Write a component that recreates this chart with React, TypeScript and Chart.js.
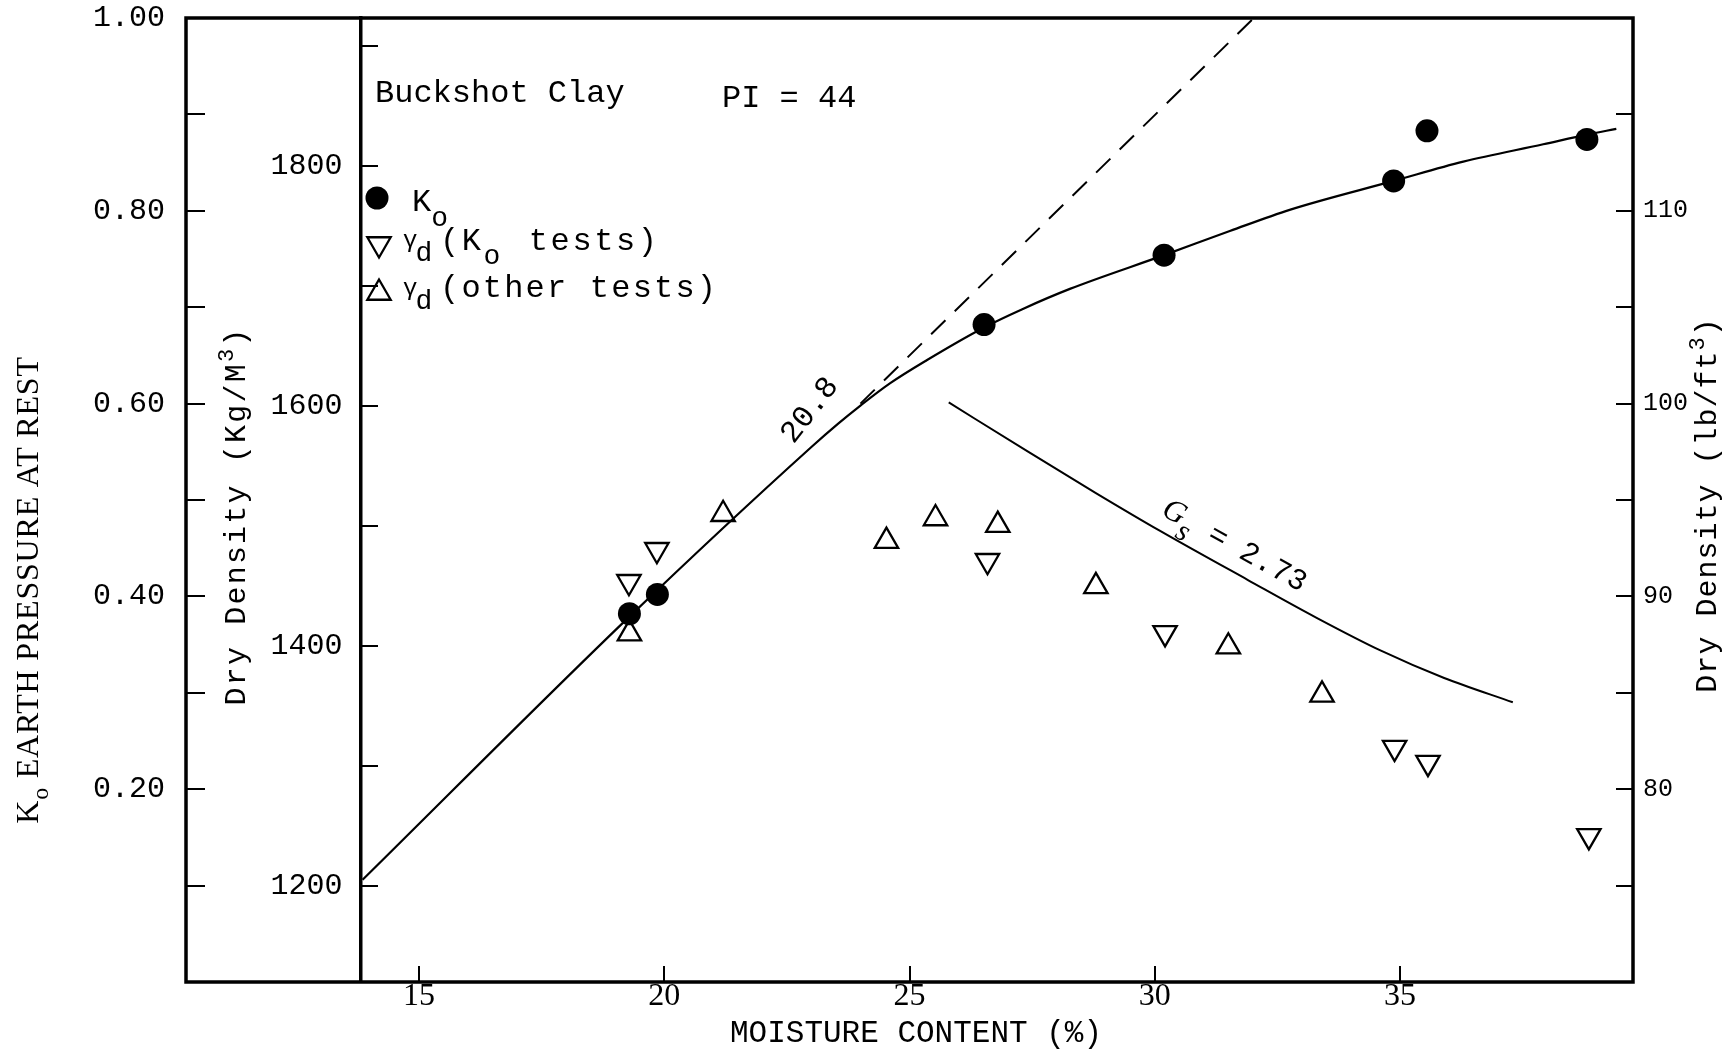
import React, { useEffect, useRef } from 'react';
import { Chart, registerables } from 'chart.js';

Chart.register(...registerables);

// ---------------- data ----------------
const moistureTicks = [15, 20, 25, 30, 35];
const k0Ticks = [0.1, 0.2, 0.3, 0.4, 0.5, 0.6, 0.7, 0.8, 0.9, 1.0];
const k0TickLabels = [0.2, 0.4, 0.6, 0.8, 1.0];
const kgTicks = [1200, 1300, 1400, 1500, 1600, 1700, 1800, 1900];
const kgTickLabels = [1200, 1400, 1600, 1800];
const lbTicks = [75, 80, 85, 90, 95, 100, 105, 110, 115];
const lbTickLabels = [80, 90, 100, 110];

// K0 test results (moisture %, K0)
const k0TestMoisture = [19.29, 19.86, 26.52, 30.19, 34.87, 35.55, 38.81];
const k0Values = [0.382, 0.402, 0.682, 0.754, 0.831, 0.883, 0.874];

// dry density of K0 tests (moisture %, lb/ft3)
const gammaK0Moisture = [19.28, 19.85, 26.59, 30.21, 34.89, 35.57, 38.85];
const gammaK0Density = [90.76, 92.42, 91.85, 88.11, 82.16, 81.38, 77.58];

// dry density of other tests (moisture %, lb/ft3)
const gammaOtherMoisture = [19.29, 21.2, 24.53, 25.53, 26.8, 28.8, 31.5, 33.41];
const gammaOtherDensity = [88.07, 94.26, 92.87, 94.04, 93.7, 90.52, 87.39, 84.89];

// fitted K0 curve
const k0CurveMoisture = [13.85, 19.29, 23.0, 23.54, 24.0, 24.6, 25.35, 26.52, 27.3, 28.27, 30.19, 31.53, 32.75, 34.87, 36.29, 37.92, 38.81, 39.41];
const k0CurveValues = [0.106, 0.379, 0.555, 0.579, 0.598, 0.621, 0.645, 0.679, 0.698, 0.719, 0.754, 0.779, 0.801, 0.831, 0.851, 0.869, 0.879, 0.885];

// dashed straight-line extension (slope 20.8)
const slopeMoisture = [24.0, 32.02];
const slopeValues = [0.6, 1.0];

// Gs = 2.73 curve (moisture %, lb/ft3)
const zavMoisture = [25.8, 27.4, 28.8, 30.1, 31.9, 33.3, 34.6, 35.9, 37.3];
const zavDensity = [100.06, 97.53, 95.36, 93.41, 90.85, 88.89, 87.2, 85.77, 84.51];

const zip = (xs: number[], ys: number[]) => xs.map((x, i) => ({ x, y: ys[i] }));

const MONO = 'Liberation Mono';
const SERIF = 'Liberation Serif';

type Run = { t: string; font: string; dy?: number; dx?: number };

function drawRuns(ctx: CanvasRenderingContext2D, runs: Run[], x: number, y: number, center: boolean, spacing = 0) {
  (ctx as any).letterSpacing = `${spacing}px`;
  let total = 0;
  for (const r of runs) {
    ctx.font = r.font;
    total += ctx.measureText(r.t).width + (r.dx || 0);
  }
  let cx = center ? x - total / 2 : x;
  for (const r of runs) {
    ctx.font = r.font;
    cx += r.dx || 0;
    ctx.fillText(r.t, cx, y + (r.dy || 0));
    cx += ctx.measureText(r.t).width;
  }
  (ctx as any).letterSpacing = '0px';
}

function rotated(ctx: CanvasRenderingContext2D, x: number, y: number, deg: number, fn: () => void) {
  ctx.save();
  ctx.translate(x, y);
  ctx.rotate((deg * Math.PI) / 180);
  fn();
  ctx.restore();
}

function triangle(ctx: CanvasRenderingContext2D, x: number, y: number, r: number, down: boolean) {
  let rad = down ? Math.PI : 0;
  ctx.beginPath();
  for (let i = 0; i < 3; i++) {
    const px = x + Math.sin(rad) * r;
    const py = y - Math.cos(rad) * r;
    if (i === 0) ctx.moveTo(px, py);
    else ctx.lineTo(px, py);
    rad += (2 * Math.PI) / 3;
  }
  ctx.closePath();
  ctx.stroke();
}

const overlayPlugin = {
  id: 'overlay',
  beforeDraw(chart: any) {
    const { ctx, width, height } = chart;
    ctx.save();
    ctx.fillStyle = '#fff';
    ctx.fillRect(0, 0, width, height);
    ctx.restore();
  },
  afterDraw(chart: any) {
    const { ctx, chartArea: a, scales } = chart;
    ctx.save();
    ctx.strokeStyle = '#000';
    ctx.fillStyle = '#000';
    // frame
    ctx.lineWidth = 3.5;
    ctx.strokeRect(a.left, a.top, a.right - a.left, a.bottom - a.top);

    ctx.textBaseline = 'alphabetic';
    ctx.textAlign = 'left';

    // axis titles
    rotated(ctx, 38, 590, -90, () => {
      drawRuns(ctx, [
        { t: 'K', font: `32px ${SERIF}` },
        { t: 'o', font: `24px ${SERIF}`, dy: 10 },
        { t: ' EARTH PRESSURE AT REST', font: `32px ${SERIF}` },
      ], 0, 0, true, 0.8);
    });
    rotated(ctx, 245, 516, -90, () => {
      drawRuns(ctx, [
        { t: 'Dry Density (Kg/M', font: `30px ${MONO}` },
        { t: '3', font: `22px ${MONO}`, dy: -12 },
        { t: ')', font: `30px ${MONO}` },
      ], 0, 0, true, 2.2);
    });
    rotated(ctx, 1716, 505, -90, () => {
      drawRuns(ctx, [
        { t: 'Dry Density (lb/ft', font: `30px ${MONO}` },
        { t: '3', font: `22px ${MONO}`, dy: -12 },
        { t: ')', font: `30px ${MONO}` },
      ], 0, 0, true, 1.0);
    });
    drawRuns(ctx, [{ t: 'MOISTURE CONTENT (%)', font: `31px ${MONO}` }], 916, 1042, true);

    // header text
    drawRuns(ctx, [{ t: 'Buckshot Clay', font: `32px ${MONO}` }], 375, 102, false);
    drawRuns(ctx, [{ t: 'PI = 44', font: `32px ${MONO}` }], 722, 107, false);

    // legend
    ctx.beginPath();
    ctx.arc(377, 198, 11.5, 0, Math.PI * 2);
    ctx.fill();
    ctx.lineWidth = 2.3;
    triangle(ctx, 379, 244, 13.5, true);
    triangle(ctx, 379, 293, 13.5, false);
    drawRuns(ctx, [
      { t: 'K', font: `32px ${MONO}` },
      { t: 'o', font: `28px ${MONO}`, dy: 15 },
    ], 412, 211, false);
    drawRuns(ctx, [
      { t: 'γ', font: `24px ${MONO}` },
      { t: 'd', font: `28px ${MONO}`, dy: 14, dx: -2 },
    ], 403, 247, false);
    drawRuns(ctx, [
      { t: '(K', font: `32px ${MONO}` },
      { t: 'o', font: `28px ${MONO}`, dy: 14 },
      { t: ' tests)', font: `32px ${MONO}`, dx: 4 },
    ], 440, 250, false, 2.6);
    drawRuns(ctx, [
      { t: 'γ', font: `24px ${MONO}` },
      { t: 'd', font: `28px ${MONO}`, dy: 14, dx: -2 },
    ], 403, 295, false);
    drawRuns(ctx, [{ t: '(other tests)', font: `32px ${MONO}` }], 440, 297, false, 2.2);

    // in-plot annotations
    ctx.textBaseline = 'middle';
    const x = scales.x;
    rotated(ctx, x.getPixelForValue(22.97), scales.y.getPixelForValue(0.593), -52, () => {
      drawRuns(ctx, [{ t: '20.8', font: `31px ${MONO}` }], 0, 0, true);
    });
    rotated(ctx, x.getPixelForValue(31.62), scales.yLb.getPixelForValue(92.6), 29, () => {
      drawRuns(ctx, [
        { t: 'G', font: `italic 31px ${SERIF}` },
        { t: 's', font: `italic 30px ${SERIF}`, dy: 13 },
        { t: ' = 2.73', font: `30px ${MONO}` },
      ], 0, 0, true);
    });
    ctx.restore();
  },
};

const gridOpts = (len: number) => ({
  drawOnChartArea: false,
  drawTicks: true,
  tickLength: len,
  lineWidth: 2,
  color: '#000',
});

export default function App() {
  const ref = useRef<HTMLCanvasElement>(null);

  useEffect(() => {
    document.body.style.margin = '0';
    const canvas = ref.current!;
    const chart = new Chart(canvas, {
      type: 'scatter',
      data: {
        datasets: [
          {
            label: 'K0',
            data: zip(k0TestMoisture, k0Values),
            yAxisID: 'y',
            showLine: false,
            pointStyle: 'circle',
            pointRadius: 11.5,
            pointHoverRadius: 11.5,
            pointBackgroundColor: '#000',
            pointBorderColor: '#000',
            pointBorderWidth: 0,
          },
          {
            label: 'γd (K0 tests)',
            data: zip(gammaK0Moisture, gammaK0Density),
            yAxisID: 'yLb',
            showLine: false,
            pointStyle: 'triangle',
            pointRotation: 180,
            pointRadius: 13.5,
            pointHoverRadius: 13.5,
            pointBackgroundColor: 'rgba(0,0,0,0)',
            pointBorderColor: '#000',
            pointBorderWidth: 2.3,
          },
          {
            label: 'γd (other tests)',
            data: zip(gammaOtherMoisture, gammaOtherDensity),
            yAxisID: 'yLb',
            showLine: false,
            pointStyle: 'triangle',
            pointRotation: 0,
            pointRadius: 13.5,
            pointHoverRadius: 13.5,
            pointBackgroundColor: 'rgba(0,0,0,0)',
            pointBorderColor: '#000',
            pointBorderWidth: 2.3,
          },
          {
            label: 'K0 curve',
            data: zip(k0CurveMoisture, k0CurveValues),
            yAxisID: 'y',
            showLine: true,
            pointRadius: 0,
            pointHoverRadius: 0,
            borderColor: '#000',
            borderWidth: 2.2,
            cubicInterpolationMode: 'monotone',
            fill: false,
          },
          {
            label: 'slope 20.8',
            data: zip(slopeMoisture, slopeValues),
            yAxisID: 'y',
            showLine: true,
            pointRadius: 0,
            pointHoverRadius: 0,
            borderColor: '#000',
            borderWidth: 2,
            borderDash: [20, 13],
            fill: false,
          },
          {
            label: 'Gs = 2.73',
            data: zip(zavMoisture, zavDensity),
            yAxisID: 'yLb',
            showLine: true,
            pointRadius: 0,
            pointHoverRadius: 0,
            borderColor: '#000',
            borderWidth: 2,
            cubicInterpolationMode: 'monotone',
            fill: false,
          },
        ],
      },
      options: {
        responsive: false,
        devicePixelRatio: 1,
        animation: false,
        events: [],
        layout: { padding: { top: 18, left: 0, right: 0, bottom: 0 } },
        plugins: { legend: { display: false }, tooltip: { enabled: false } },
        scales: {
          x: {
            type: 'linear',
            position: 'bottom',
            min: 10.25,
            max: 39.75,
            afterBuildTicks: (s: any) => {
              s.ticks = moistureTicks.map((v) => ({ value: v }));
            },
            ticks: {
              font: { family: SERIF, size: 32 },
              color: '#000',
              padding: 11,
              maxRotation: 0,
              minRotation: 0,
              autoSkip: false,
              callback: (v: any) => String(v),
            },
            grid: gridOpts(-16),
            border: { display: false },
            afterFit: (s: any) => {
              s.height = 73;
              s.paddingLeft = 0;
              s.paddingRight = 0;
            },
          },
          y: {
            type: 'linear',
            position: 'left',
            min: 0,
            max: 1,
            afterBuildTicks: (s: any) => {
              s.ticks = k0Ticks.map((v) => ({ value: v }));
            },
            ticks: {
              font: { family: MONO, size: 30 },
              color: '#000',
              padding: 40,
              autoSkip: false,
              callback: (v: any) => (k0TickLabels.includes(v) ? Number(v).toFixed(2) : ''),
            },
            grid: gridOpts(-19),
            border: { display: false },
            afterFit: (s: any) => {
              s.width = 186;
              s.paddingTop = 0;
              s.paddingBottom = 0;
            },
          },
          yLb: {
            type: 'linear',
            axis: 'y',
            position: 'right',
            min: 70,
            max: 120,
            afterBuildTicks: (s: any) => {
              s.ticks = lbTicks.map((v) => ({ value: v }));
            },
            ticks: {
              font: { family: MONO, size: 25 },
              color: '#000',
              padding: 27,
              autoSkip: false,
              callback: (v: any) => (lbTickLabels.includes(v) ? String(v) : ''),
            },
            grid: gridOpts(-17),
            border: { display: false },
            afterFit: (s: any) => {
              s.width = 96;
              s.paddingTop = 0;
              s.paddingBottom = 0;
            },
          },
          yKg: {
            type: 'linear',
            axis: 'y',
            position: { x: 13.81 },
            min: 1119.75,
            max: 1923,
            afterBuildTicks: (s: any) => {
              s.ticks = kgTicks.map((v) => ({ value: v }));
            },
            ticks: {
              font: { family: MONO, size: 30 },
              color: '#000',
              autoSkip: false,
              callback: (v: any) => (kgTickLabels.includes(v) ? `${v} ` : ''),
            },
            grid: gridOpts(-19),
            border: { display: true, width: 3.5, color: '#000' },
            afterFit: (s: any) => {
              s.paddingTop = 0;
              s.paddingBottom = 0;
            },
          },
        } as any,
      },
      plugins: [overlayPlugin],
    } as any);
    return () => chart.destroy();
  }, []);

  return (
    <div style={{ width: 1729, height: 1055, background: '#fff' }}>
      <canvas ref={ref} width={1729} height={1055} style={{ display: 'block', width: 1729, height: 1055 }} />
    </div>
  );
}
